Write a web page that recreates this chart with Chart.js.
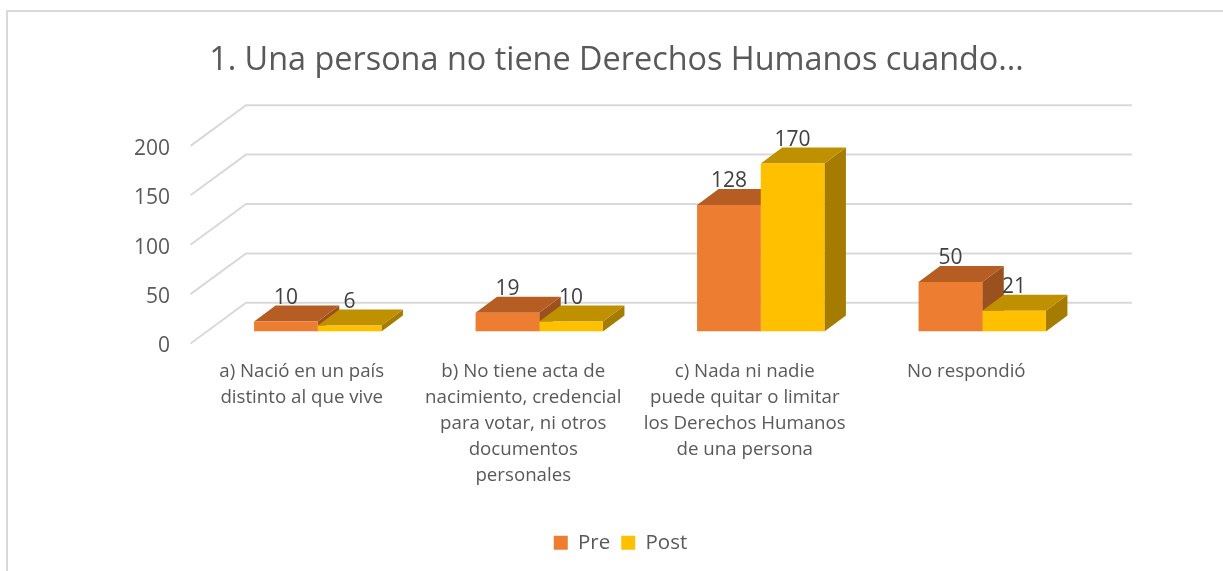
<!DOCTYPE html>
<html>
<head>
<meta charset="utf-8">
<title>Derechos Humanos</title>
<script src="https://cdn.jsdelivr.net/npm/chart.js@4"></script>
<style>
    html, body { margin: 0; padding: 0; background: #fff; overflow: hidden; }
    #wrap { position: absolute; left: 0; top: 0; width: 1223px; height: 571px; }
    #frame { position: absolute; left: 6px; top: 10px; width: 1230px; height: 570px; border: 2px solid #d9d9d9; box-sizing: border-box; }
    canvas { position: absolute; left: 0; top: 0; }
</style>
</head>
<body>
<div id="wrap">
    <div id="frame"></div>
    <canvas id="myChart" width="1223" height="571"></canvas>
</div>
<script>
var chartTitle = "1. Una persona no tiene Derechos Humanos cuando...";
var categories = [
    ["a) Nació en un país", "distinto al que vive"],
    ["b) No tiene acta de", "nacimiento, credencial", "para votar, ni otros", "documentos", "personales"],
    ["c) Nada ni nadie", "puede quitar o limitar", "los Derechos Humanos", "de una persona"],
    ["No respondió"]
];
var preValues = [10, 19, 128, 50];
var postValues = [6, 10, 170, 21];
var yTicks = [0, 50, 100, 150, 200];

var fontName = "'Open Sans', sans-serif";

// 3D look: offsets of the bar depth and of the back wall from the bar plane
var depthX = 21.5, depthY = 16;
var wallX = 39, wallY = 28.7;
var frontX = 16.5, frontY = 12;

var shades = [
    { top: "#b65d24", side: "#9a511e" },
    { top: "#bf9000", side: "#a67c00" }
];

function poly(ctx, pts, color) {
    ctx.fillStyle = color;
    ctx.beginPath();
    ctx.moveTo(pts[0][0], pts[0][1]);
    for (var i = 1; i < pts.length; i++) {
        ctx.lineTo(pts[i][0], pts[i][1]);
    }
    ctx.closePath();
    ctx.fill();
}

var wallPlugin = {
    id: "wall",
    afterLayout: function (chart) {
        // legend sits a little right of the centre
        chart.legend.left += 4;
        chart.legend.right += 4;
    },
    beforeDatasetsDraw: function (chart) {
        var ctx = chart.ctx, y = chart.scales.y, area = chart.chartArea;
        ctx.save();
        // grid lines on the back and side wall
        ctx.strokeStyle = "#d9d9d9";
        ctx.lineWidth = 2;
        yTicks.forEach(function (v) {
            var py = y.getPixelForValue(v);
            ctx.beginPath();
            ctx.moveTo(area.left - frontX, py + frontY);
            ctx.lineTo(area.left + wallX, py - wallY);
            ctx.lineTo(area.right + wallX, py - wallY);
            ctx.stroke();
        });
        // top and side of each bar, Pre first so the Post top covers the lower part of its side
        chart.data.datasets.forEach(function (ds, d) {
            chart.getDatasetMeta(d).data.forEach(function (bar) {
                var half = bar.width / 2;
                var l = bar.x - half, r = bar.x + half, t = bar.y, b = bar.base;
                poly(ctx, [[r, t], [r + depthX, t - depthY], [r + depthX, b - depthY], [r, b]], shades[d].side);
                poly(ctx, [[l, t], [r, t], [r + depthX, t - depthY], [l + depthX, t - depthY]], shades[d].top);
            });
        });
        ctx.restore();
    },
    afterDatasetsDraw: function (chart) {
        var ctx = chart.ctx;
        ctx.save();
        ctx.fillStyle = "#404040";
        ctx.font = "21px " + fontName;
        ctx.textAlign = "center";
        ctx.textBaseline = "alphabetic";
        chart.data.datasets.forEach(function (ds, d) {
            chart.getDatasetMeta(d).data.forEach(function (bar, i) {
                ctx.fillText(ds.data[i], bar.x, bar.y - 18);
            });
        });
        ctx.restore();
    }
};

new Chart("myChart", {
    type: "bar",
    plugins: [wallPlugin],
    data: {
        labels: categories,
        datasets: [
            { label: "Pre", data: preValues, backgroundColor: "#ed7d31" },
            { label: "Post", data: postValues, backgroundColor: "#ffc000" }
        ]
    },
    options: {
        responsive: false,
        animation: false,
        layout: { padding: { left: 10, right: 0, top: 0, bottom: 8 } },
        datasets: { bar: { categoryPercentage: 0.575, barPercentage: 1 } },
        plugins: {
            tooltip: { enabled: false },
            title: {
                display: true,
                text: chartTitle,
                color: "#595959",
                font: { family: fontName, size: 32.4, weight: "normal" },
                padding: { top: 41, bottom: 54 }
            },
            legend: {
                position: "bottom",
                labels: {
                    boxWidth: 14,
                    boxHeight: 14,
                    padding: 11,
                    color: "#595959",
                    font: { family: fontName, size: 20.5 }
                }
            }
        },
        scales: {
            x: {
                grid: { display: false },
                border: { display: false },
                ticks: {
                    color: "#595959",
                    font: { family: fontName, size: 18.7, lineHeight: 1.39 },
                    maxRotation: 0,
                    autoSkip: false,
                    labelOffset: -16,
                    padding: 19
                },
                afterFit: function (scale) { scale.height = 190; }
            },
            y: {
                min: 0,
                max: 200,
                grid: { display: false },
                border: { display: false },
                afterBuildTicks: function (scale) {
                    scale.ticks = yTicks.map(function (v) { return { value: v }; });
                },
                ticks: {
                    color: "#595959",
                    font: { family: fontName, size: 21 },
                    labelOffset: 15,
                    padding: 29
                },
                afterFit: function (scale) { scale.width = 197; }
            },
            // empty axis, keeps the plot clear of the right side
            spacer: {
                position: "right",
                min: 0,
                max: 200,
                grid: { display: false },
                border: { display: false },
                ticks: { display: false },
                afterFit: function (scale) { scale.width = 130; }
            }
        }
    }
});
</script>
</body>
</html>
